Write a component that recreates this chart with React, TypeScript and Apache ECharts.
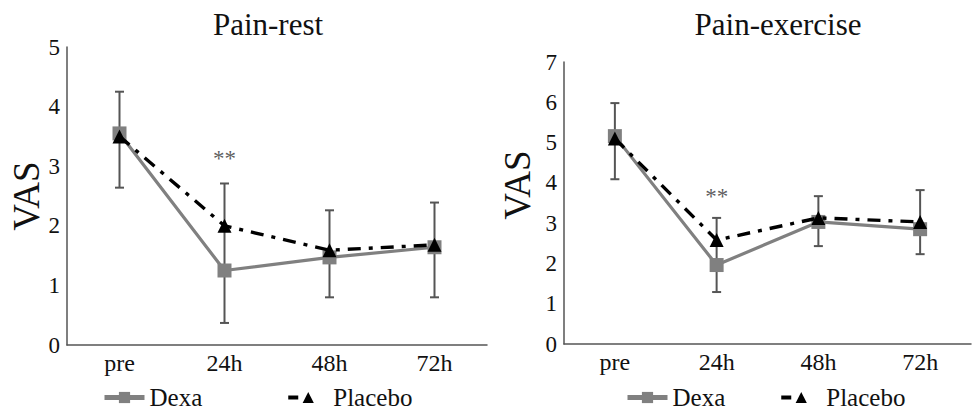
import React, { useEffect, useRef } from "react";
import * as echarts from "echarts";

const categories = ["pre", "24h", "48h", "72h"];

const restDexa = [3.55, 1.25, 1.47, 1.64];
const restPlacebo = [3.5, 2.0, 1.59, 1.68];
const restErrLow = [2.64, 0.37, 0.8, 0.8];
const restErrHigh = [4.25, 2.71, 2.26, 2.39];
const restSig = [[1, 3.13]];

const exDexa = [5.16, 1.96, 3.03, 2.85];
const exPlacebo = [5.1, 2.58, 3.13, 3.03];
const exErrLow = [4.09, 1.29, 2.43, 2.23];
const exErrHigh = [5.98, 3.13, 3.67, 3.82];
const exSig = [[1, 3.65]];

const FONT = "Liberation Serif";
const GRAY = "#808080";
const ERR = "#555555";
const TXT = "#111111";

function errorData(lo: number[], hi: number[]) {
  return lo.map((l, i) => [i, l, hi[i]]);
}

function renderError(params: any, api: any) {
  const x = api.value(0);
  const lo = api.coord([x, api.value(1)]);
  const hi = api.coord([x, api.value(2)]);
  const w = 4.5;
  const style = { stroke: ERR, lineWidth: 2 };
  return {
    type: "group",
    children: [
      { type: "line", shape: { x1: lo[0], y1: lo[1], x2: hi[0], y2: hi[1] }, style },
      { type: "line", shape: { x1: lo[0] - w, y1: lo[1], x2: lo[0] + w, y2: lo[1] }, style },
      { type: "line", shape: { x1: hi[0] - w, y1: hi[1], x2: hi[0] + w, y2: hi[1] }, style },
    ],
  };
}

export default function App() {
  const ref = useRef<HTMLDivElement>(null);
  useEffect(() => {
    if (!ref.current) return;
    const chart = echarts.init(ref.current, null, { renderer: "svg" });
    const xAxisBase = (gridIndex: number) => ({
      type: "category",
      gridIndex,
      data: categories,
      boundaryGap: true,
      axisLine: { lineStyle: { color: "#555", width: 1.5 } },
      axisTick: { show: false },
      axisLabel: { color: TXT, fontSize: 24, fontFamily: FONT, margin: 6 },
    });
    const yAxisBase = (gridIndex: number, max: number, gap: number, shift: number) => ({
      type: "value",
      gridIndex,
      min: 0,
      max,
      interval: 1,
      name: "VAS",
      nameLocation: "middle",
      nameGap: gap,
      nameTextStyle: {
        color: TXT,
        fontSize: 37,
        fontFamily: FONT,
        padding: [0, 0, 0, shift],
      },
      axisLine: { show: true, lineStyle: { color: "#555", width: 1.5 } },
      axisTick: { show: false },
      splitLine: { show: false },
      axisLabel: { color: TXT, fontSize: 23, fontFamily: FONT, margin: 7 },
    });
    const lineSeries = (name: string, data: number[], idx: number, dexa: boolean) =>
      dexa
        ? {
            name,
            type: "line",
            xAxisIndex: idx,
            yAxisIndex: idx,
            data,
            symbol: "rect",
            symbolSize: 14,
            z: 4,
            lineStyle: { color: GRAY, width: 3.2 },
            itemStyle: { color: GRAY },
          }
        : {
            name,
            type: "line",
            xAxisIndex: idx,
            yAxisIndex: idx,
            data,
            symbol: "triangle",
            symbolSize: 14,
            z: 5,
            lineStyle: { color: "#000", width: 3.4, type: [13, 8, 4, 8] },
            itemStyle: { color: "#000" },
          };
    const errSeries = (lo: number[], hi: number[], idx: number) => ({
      type: "custom",
      xAxisIndex: idx,
      yAxisIndex: idx,
      data: errorData(lo, hi),
      encode: { x: 0, y: [1, 2] },
      renderItem: renderError,
      z: 3,
      silent: true,
    });
    const sigSeries = (data: number[][], idx: number) => ({
      type: "scatter",
      xAxisIndex: idx,
      yAxisIndex: idx,
      data,
      symbolSize: 0,
      silent: true,
      itemStyle: { color: "#333333" },
      label: {
        show: true,
        position: "inside",
        formatter: "**",
        fontSize: 23,
        fontFamily: FONT,
        color: "#333333",
        textBorderWidth: 0,
      },
    });
    const legendBase = (left: number, gap: number) => ({
      left,
      top: 380,
      orient: "horizontal",
      itemWidth: 40,
      itemHeight: 14,
      itemGap: gap,
      data: [
        { name: "Dexa", lineStyle: { width: 5 } },
        { name: "Placebo", lineStyle: { width: 4, type: [10, 40] } },
      ],
      textStyle: { color: TXT, fontSize: 25, fontFamily: FONT },
      selectedMode: false,
    });
    const titleStyle = { fontSize: 31, fontWeight: "normal", color: TXT, fontFamily: FONT };
    chart.setOption({
      animation: false,
      title: [
        { text: "Pain-rest", left: 263, top: 4, textAlign: "center", textStyle: titleStyle },
        { text: "Pain-exercise", left: 773, top: 4, textAlign: "center", textStyle: titleStyle },
      ],
      legend: [legendBase(97, 84), legendBase(620, 54)],
      grid: [
        { left: 67, right: 485, top: 47, bottom: 70 },
        { left: 564, right: 1, top: 62, bottom: 71 },
      ],
      xAxis: [xAxisBase(0), xAxisBase(1)],
      yAxis: [yAxisBase(0, 5, 22, 0), yAxisBase(1, 7, 28, 36)],
      series: [
        errSeries(restErrLow, restErrHigh, 0),
        lineSeries("Dexa", restDexa, 0, true),
        lineSeries("Placebo", restPlacebo, 0, false),
        sigSeries(restSig, 0),
        errSeries(exErrLow, exErrHigh, 1),
        lineSeries("Dexa", exDexa, 1, true),
        lineSeries("Placebo", exPlacebo, 1, false),
        sigSeries(exSig, 1),
      ],
    });
    return () => chart.dispose();
  }, []);
  return (
    <div
      ref={ref}
      style={{ position: "fixed", left: 0, top: 0, width: 972, height: 415, background: "#fff" }}
    />
  );
}
